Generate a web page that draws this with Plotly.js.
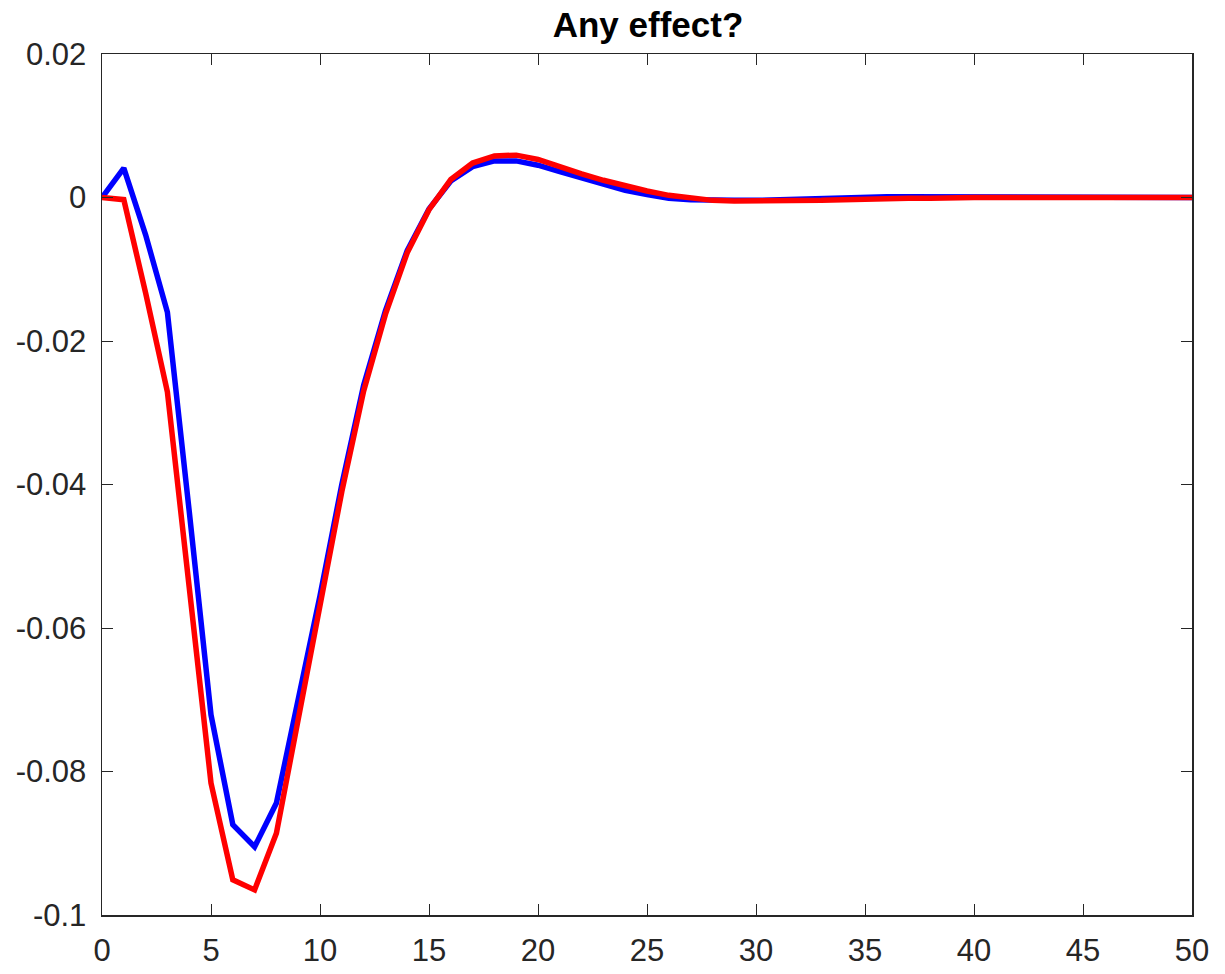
<!DOCTYPE html>
<html>
<head>
<meta charset="utf-8">
<script src="https://cdn.plot.ly/plotly-3.0.1.min.js"></script>
<style>html,body{margin:0;padding:0;background:#fff;}#chart{width:1225px;height:974px;}</style>
</head>
<body>
<div id="chart"></div>
<script>
const periods = Array.from({length: 51}, (_, i) => i);
const blueSeries = [
  0, 0.0041, -0.0052, -0.0160, -0.0437, -0.0721, -0.0874, -0.0905, -0.0844, -0.0700,
  -0.0555, -0.0400, -0.0262, -0.0158, -0.0074, -0.0016, 0.0023, 0.0043, 0.0051, 0.0051,
  0.0045, 0.0036, 0.0027, 0.0018, 0.0010, 0.0004, -0.0001, -0.0003, -0.0004, -0.0004,
  -0.0004, -0.0003, -0.0002, -0.0001, -0.0001, 0.0000, 0.0001, 0.0001, 0.0001, 0.0001,
  0.0001, 0.0001, 0.0001, 0.0001, 0.0001, 0.0000, 0.0000, 0.0000, 0.0000, 0.0000, 0.0000
];
const redSeries = [
  0, -0.0003, -0.0133, -0.0271, -0.0543, -0.0816, -0.0951, -0.0965, -0.0886, -0.0730,
  -0.0570, -0.0410, -0.0270, -0.0163, -0.0077, -0.0017, 0.0025, 0.0048, 0.0058, 0.0059,
  0.0053, 0.0042, 0.0033, 0.0024, 0.0016, 0.0009, 0.0003, -0.0001, -0.0004, -0.0005,
  -0.0005, -0.0005, -0.0004, -0.0004, -0.0003, -0.0002, -0.0002, -0.0001, -0.0001, 0.0000,
  0.0000, 0.0000, 0.0000, 0.0000, 0.0000, 0.0000, 0.0000, 0.0000, 0.0000, 0.0000, 0.0000
];
const xTicks = [0, 5, 10, 15, 20, 25, 30, 35, 40, 45, 50];
const yTicks = [0.02, 0, -0.02, -0.04, -0.06, -0.08, -0.1];
const yTickText = ['0.02', '0', '-0.02', '-0.04', '-0.06', '-0.08', '-0.1'];

const traces = [
  {x: periods, y: blueSeries, mode: 'lines', line: {color: '#0000ff', width: 5.5}, hoverinfo: 'none'},
  {x: periods, y: redSeries, mode: 'lines', line: {color: '#ff0000', width: 5.5}, hoverinfo: 'none'}
];
const axisCommon = {
  showgrid: false, zeroline: false, showline: true, mirror: 'ticks',
  linecolor: '#262626', linewidth: 1.5, ticks: 'inside', ticklen: 11, tickwidth: 1,
  tickcolor: '#262626', tickfont: {family: 'Liberation Sans, Arial, sans-serif', size: 31, color: '#262626'}
};
const layout = {
  width: 1225, height: 974,
  margin: {l: 102, r: 33, t: 54, b: 59},
  paper_bgcolor: '#ffffff', plot_bgcolor: '#ffffff',
  showlegend: false,
  title: {text: '<b>Any effect?</b>', x: 0.529, xanchor: 'center', y: 0.975, yanchor: 'middle',
          font: {family: 'Liberation Sans, Arial, sans-serif', size: 35, color: '#000000'}},
  xaxis: Object.assign({}, axisCommon, {range: [0, 50], tickvals: xTicks, ticktext: xTicks.map(String), ticklabelstandoff: 7}),
  yaxis: Object.assign({}, axisCommon, {range: [-0.1, 0.02], tickvals: yTicks, ticktext: yTickText, ticklabelstandoff: 8})
};
Plotly.newPlot('chart', traces, layout, {displayModeBar: false, staticPlot: true});
</script>
</body>
</html>
